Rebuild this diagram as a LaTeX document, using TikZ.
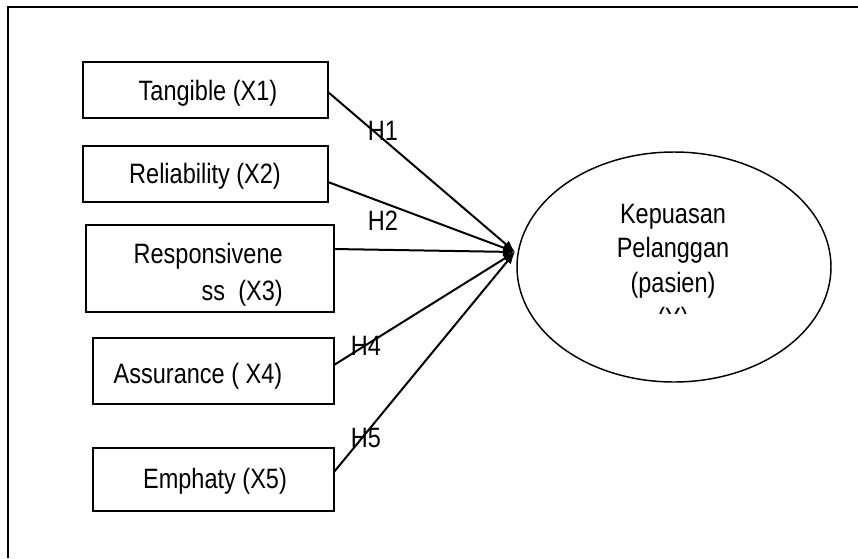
\documentclass[tikz,border=0pt]{standalone}
\usepackage{fontspec}
\setmainfont[FakeStretch=0.84]{Liberation Sans}
\usetikzlibrary{shapes.geometric,arrows.meta}
\begin{document}
\begin{tikzpicture}[x=0.75pt,y=-0.75pt,
  every node/.style={font=\fontsize{21}{26}\selectfont},
  box/.style={draw,line width=1.5pt,rectangle,inner sep=0pt},
  txt/.style={inner sep=0pt,anchor=base},
  conn/.style={line width=1.5pt,-{Latex[length=9pt,width=7pt]}}]
\useasboundingbox (0,0) rectangle (858,558);
% frame (top and left)
\draw[line width=2pt] (8,558) -- (8,7) -- (858,7);
% boxes
\node[box,minimum width=183.75pt,minimum height=42pt] (b1) at (205.5,90) {};
\node[box,minimum width=183.75pt,minimum height=42pt] (b2) at (205.5,174) {};
\node[box,minimum width=186pt,minimum height=65.25pt] (b3) at (210,268.5) {};
\node[box,minimum width=180.75pt,minimum height=49.5pt] (b4) at (213.5,371) {};
\node[box,minimum width=180.75pt,minimum height=47.25pt] (b5) at (213.5,479.5) {};
% box texts
\node[txt] (t1) at (208,100) {Tangible (X1)};
\node[txt] (t2) at (205,183) {Reliability (X2)};
\node[txt,anchor=base east] (t3a) at (283,263) {Responsivene};
\node[txt,anchor=base east] (t3b) at (283,300) {ss\ \ (X3)};
\node[txt] (t4) at (198,383) {Assurance ( X4)};
\node[txt] (t5) at (215,488) {Emphaty (X5)};
% ellipse
\node[draw,ellipse,line width=1.1pt,minimum width=235.5pt,minimum height=172.5pt] (y) at (674,267) {};
\node[txt] (k1) at (673,223) {Kepuasan};
\node[txt] (k2) at (673,257) {Pelanggan};
\node[txt] (k3) at (673,292) {(pasien)};
\begin{scope}
\clip (600,290) rectangle (750,313);
\node[txt] (k4) at (673,327) {(Y)};
\end{scope}
% convergence point
\coordinate (tip) at (515,252);
\coordinate (s1) at (328,92);
\coordinate (s2) at (328,182);
\coordinate (s3) at (334,249);
\coordinate (s4) at (334,365);
\coordinate (s5) at (334,472);
\draw[conn] (s1) -- (tip);
\draw[conn] (s2) -- (tip);
\draw[conn] (s3) -- (tip);
\draw[conn] (s4) -- (tip);
\draw[conn] (s5) -- (tip);
% hypothesis labels
\node[txt] (h1) at (383,140) {H1};
\node[txt] (h2) at (383,230) {H2};
\node[txt] (h4) at (366,355) {H4};
\node[txt] (h5) at (366,447) {H5};
\end{tikzpicture}
\end{document}
